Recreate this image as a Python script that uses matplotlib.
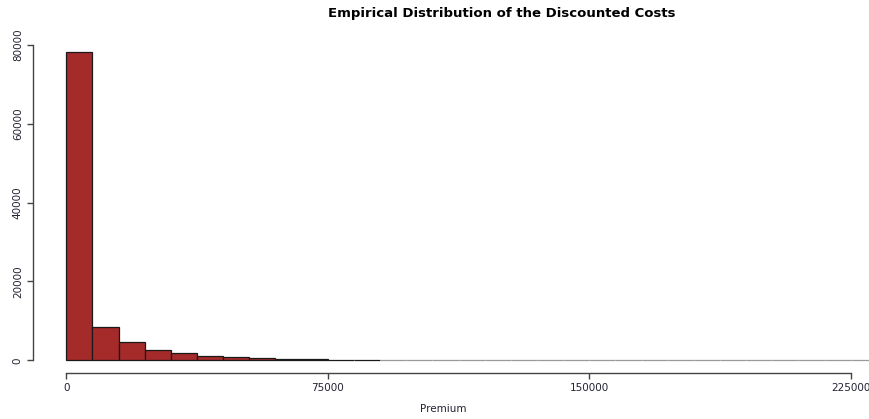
import matplotlib
matplotlib.use("Agg")
import matplotlib.pyplot as plt
import numpy as np

# Histogram data (bin width 7500)
bin_width = 7500
bin_starts = [i * 7500 for i in range(32)]
counts = [78150, 8500, 4650, 2600, 1750, 1150, 800, 500, 350, 280,
          120, 80, 0, 0, 0, 0, 0, 0, 0, 0,
          0, 0, 0, 0, 0, 0, 0, 0, 0, 0, 0, 0]
x_ticks = [0, 75000, 150000, 225000]
x_tick_labels = ["0", "75000", "150000", "225000"]
y_ticks = [0, 20000, 40000, 60000, 80000]
y_tick_labels = ["0", "20000", "40000", "60000", "80000"]
title = "Empirical Distribution of the Discounted Costs"
xlabel = "Premium"

W, H = 870, 419
fig = plt.figure(figsize=(W / 100, H / 100), dpi=100)

# axes placement in pixels
ax_left_px, ax_right_px = 45, 870
ax_top_px, ax_bot_px = 30, 366
ax = fig.add_axes([ax_left_px / W, 1 - ax_bot_px / H,
                   (ax_right_px - ax_left_px) / W, (ax_bot_px - ax_top_px) / H])

# pixel scales derived from reference
x0_px, xscale = 66.3, 261.5 / 75000.0
y0_px, yscale = 360.3, 315.3 / 80000.0
ax.set_xlim((ax_left_px - x0_px) / xscale, (ax_right_px - x0_px) / xscale)
ax.set_ylim(-(ax_bot_px - y0_px) / yscale, (y0_px - ax_top_px) / yscale)

edge_colors = ["#1a1a1a" if c > 0 else "#9a9a9a" for c in counts]
ax.bar(bin_starts, counts, width=bin_width, align="edge",
       color="#A52A2A", edgecolor=edge_colors, linewidth=0.9)

for s in ["top", "right"]:
    ax.spines[s].set_visible(False)
ax.spines["left"].set_position(("outward", 12 * 0.72))
ax.spines["bottom"].set_position(("outward", 7.3 * 0.72))
ax.spines["left"].set_bounds(0, 80000)
ax.spines["bottom"].set_bounds(0, 225000)
for s in ["left", "bottom"]:
    ax.spines[s].set_color("#444444")
    ax.spines[s].set_linewidth(1.0)

ax.set_xticks(x_ticks)
ax.set_xticklabels(x_tick_labels, fontsize=7.5, color="#222233")
ax.set_yticks(y_ticks)
ax.set_yticklabels(y_tick_labels, fontsize=7.5, color="#222233",
                   rotation=90, va="center")
ax.tick_params(axis="both", length=4.3, width=1.0, color="#444444", pad=3)

fig.text(443 / W, 1 - 409 / H, xlabel, ha="center", va="center",
         fontsize=7.5, color="#222233")
fig.text(502 / W, 1 - 13 / H, title, ha="center", va="center",
         fontsize=9.5, fontweight="bold", color="black")

fig.savefig("out.png", dpi=100)
